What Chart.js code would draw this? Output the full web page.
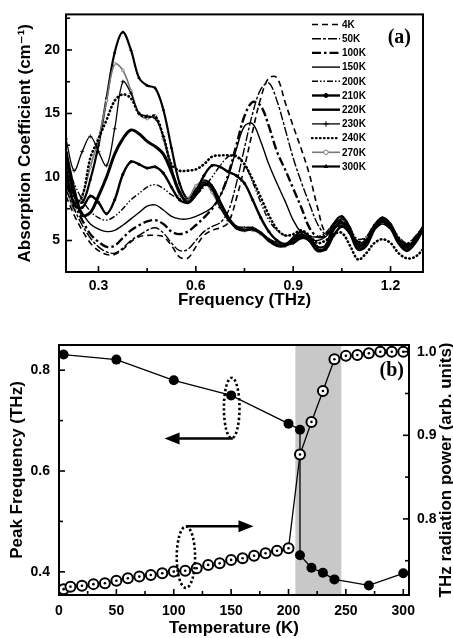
<!DOCTYPE html>
<html>
<head>
<meta charset="utf-8">
<script src="https://cdn.jsdelivr.net/npm/chart.js@4.4.1/dist/chart.umd.min.js"></script>
<style>
  html, body { margin: 0; padding: 0; background: #fff; }
  #wrap { position: relative; width: 453px; height: 638px; overflow: hidden; }
  #chart-a { position: absolute; left: 0; top: 0; }
  #chart-b { position: absolute; left: 0; top: 320px; }
</style>
</head>
<body>
<div id="wrap">
  <canvas id="chart-a" width="453" height="320"></canvas>
  <canvas id="chart-b" width="453" height="318"></canvas>
</div>
<script>
// (a) absorption spectra, one array per temperature
const freq = [0.2, 0.225, 0.25, 0.275, 0.3, 0.325, 0.35, 0.375, 0.4, 0.425, 0.45, 0.475, 0.5, 0.525, 0.55,
  0.575, 0.6, 0.625, 0.65, 0.675, 0.7, 0.725, 0.75, 0.775, 0.8, 0.825, 0.85, 0.875, 0.9, 0.925,
  0.95, 0.975, 1.0, 1.025, 1.05, 1.075, 1.1, 1.125, 1.15, 1.175, 1.2, 1.225, 1.25, 1.275, 1.3];
const abs4K = [8.5, 7.0, 5.8, 4.8, 4.2, 3.9, 3.9, 4.3, 4.9, 5.3, 5.4, 5.4, 5.3, 4.6, 3.7, 3.6, 4.5, 5.4, 5.8, 6.0, 6.4, 8.3, 10.8, 13.6, 16.2, 17.8, 17.8, 15.9, 14.0, 12.2, 10.2, 7.6, 5.6, 6.0, 6.1, 5.6, 4.6, 4.8, 5.8, 6.3, 5.9, 5.0, 4.6, 5.2, 6.0];
const abs50K = [9.0, 7.5, 6.2, 5.2, 4.5, 4.1, 4.0, 4.4, 5.0, 5.4, 5.8, 6.0, 5.6, 4.8, 4.2, 4.3, 5.0, 5.7, 6.1, 6.4, 7.3, 9.5, 12.3, 15.0, 16.9, 17.4, 16.0, 13.8, 11.5, 9.6, 7.9, 6.3, 5.5, 5.9, 6.4, 5.7, 4.8, 5.1, 6.1, 6.5, 6.0, 5.1, 4.6, 5.1, 5.9];
const abs100K = [9.5, 8.0, 6.6, 5.5, 4.9, 4.5, 4.6, 5.2, 5.8, 6.2, 6.5, 6.6, 6.3, 5.7, 5.5, 5.7, 6.2, 6.8, 7.5, 8.5, 10.2, 12.5, 14.8, 15.9, 15.6, 14.0, 12.0, 10.6, 9.1, 7.6, 6.0, 5.3, 5.4, 6.3, 6.5, 5.7, 4.9, 5.2, 6.2, 6.6, 6.1, 5.2, 4.7, 5.2, 6.0];
const abs150K = [10.0, 8.5, 7.2, 6.3, 5.9, 5.7, 5.8, 6.2, 6.7, 7.2, 7.7, 7.8, 7.4, 6.9, 6.7, 6.7, 6.9, 7.2, 7.6, 8.5, 10.0, 12.2, 14.0, 14.2, 12.8, 11.0, 9.5, 8.1, 6.6, 5.6, 5.1, 5.0, 5.3, 6.0, 6.2, 5.5, 4.7, 5.0, 5.9, 6.3, 5.9, 5.0, 4.5, 5.0, 5.8];
const abs200K = [11.0, 9.5, 8.2, 7.3, 6.8, 6.6, 6.9, 7.5, 8.2, 8.7, 9.2, 9.4, 9.1, 8.6, 8.3, 8.3, 8.6, 9.2, 10.0, 10.9, 11.6, 11.7, 11.0, 9.6, 8.0, 6.6, 5.8, 5.4, 5.4, 5.4, 5.3, 5.3, 5.6, 6.3, 6.5, 5.9, 5.1, 5.3, 6.2, 6.6, 6.2, 5.3, 4.8, 5.3, 6.1];
const abs210K = [10.5, 7.8, 7.6, 8.5, 8.0, 7.1, 8.2, 10.2, 11.2, 11.0, 10.7, 10.8, 10.3, 9.2, 8.2, 8.0, 8.8, 10.1, 10.9, 10.8, 10.4, 10.1, 9.5, 8.2, 6.8, 5.7, 5.0, 4.7, 4.8, 5.2, 5.0, 4.3, 4.3, 5.4, 6.1, 5.6, 4.6, 4.9, 6.0, 6.5, 6.0, 5.0, 4.5, 5.0, 5.9];
const abs220K = [12.0, 9.0, 7.0, 7.2, 8.5, 10.0, 11.8, 13.0, 13.7, 13.4, 12.8, 12.4, 11.8, 10.4, 8.8, 8.0, 8.6, 9.4, 9.2, 8.0, 6.8, 6.0, 5.8, 5.9, 5.6, 5.0, 4.6, 4.6, 5.0, 5.4, 5.0, 4.2, 4.4, 5.9, 6.4, 5.6, 4.3, 4.6, 5.9, 6.5, 6.0, 4.8, 4.2, 4.8, 5.9];
const abs230K = [13.0, 10.5, 12.0, 13.2, 12.0, 10.9, 13.8, 17.5, 16.6, 15.0, 14.8, 14.6, 13.2, 10.8, 8.8, 8.0, 8.8, 9.6, 9.0, 7.6, 6.6, 6.0, 5.8, 5.9, 5.6, 5.0, 4.7, 4.6, 5.1, 5.5, 5.2, 4.5, 4.6, 6.2, 6.7, 5.9, 4.5, 4.8, 6.1, 6.7, 6.2, 5.0, 4.4, 5.0, 6.0];
const abs240K = [11.0, 8.0, 8.5, 11.5, 13.0, 14.5, 16.0, 16.5, 16.2, 15.0, 14.7, 14.8, 13.2, 11.0, 10.5, 10.5, 10.6, 11.0, 11.6, 11.7, 11.7, 11.6, 11.0, 9.8, 8.4, 7.0, 5.9, 5.4, 5.5, 5.8, 5.4, 4.8, 5.0, 5.5, 5.6, 4.6, 3.5, 4.0, 4.8, 5.1, 4.8, 4.0, 3.6, 3.7, 4.3];
const abs270K = [9.5, 7.4, 8.5, 10.8, 13.0, 16.0, 18.9, 18.4, 16.8, 15.0, 14.6, 14.8, 13.0, 10.5, 8.6, 8.3, 9.3, 9.6, 8.8, 7.6, 6.6, 6.0, 5.9, 5.8, 5.5, 5.0, 4.7, 4.6, 5.0, 5.5, 5.1, 4.3, 4.5, 6.0, 6.6, 5.8, 4.4, 4.7, 6.0, 6.6, 6.1, 4.9, 4.3, 4.9, 6.0];
const abs300K = [12.0, 8.5, 8.0, 9.8, 12.5, 16.2, 19.8, 21.4, 20.0, 17.8, 17.2, 17.0, 15.3, 12.3, 9.5, 8.3, 9.0, 9.7, 9.3, 8.0, 6.8, 6.1, 6.0, 6.0, 5.6, 5.1, 4.8, 4.7, 5.2, 5.7, 5.3, 4.5, 4.6, 6.3, 6.9, 6.0, 4.6, 4.9, 6.2, 6.8, 6.3, 5.1, 4.5, 5.1, 6.1];

// (b) peak frequency and THz power vs temperature
const tempPeak = [4, 50, 100, 150, 200, 210, 210, 220, 230, 240, 270, 300];
const peakFreq = [0.831, 0.821, 0.780, 0.750, 0.694, 0.682, 0.433, 0.408, 0.398, 0.385, 0.373, 0.397];
const tempPower = [4, 10, 20, 30, 40, 50, 60, 70, 80, 90, 100, 110, 120, 130, 140, 150, 160, 170, 180, 190,
  200, 210, 220, 230, 240, 250, 260, 270, 280, 290, 300];
const thzPower = [0.716, 0.719, 0.720, 0.722, 0.723, 0.726, 0.729, 0.731, 0.733, 0.735, 0.737, 0.738, 0.741,
  0.745, 0.747, 0.751, 0.753, 0.756, 0.759, 0.762, 0.765, 0.877, 0.916, 0.953, 0.991, 0.995, 0.996, 0.998,
  1.000, 1.000, 1.000];
const transition = [206, 246]; // shaded temperature band

const FONT = '"Liberation Sans", "DejaVu Sans", Arial, sans-serif';
const SERIF = '"Liberation Serif", "DejaVu Serif", serif';

// line style for each temperature curve
const spectra = [
  { label: '4K', data: abs4K, dash: [6, 4], width: 1.6 },
  { label: '50K', data: abs50K, dash: [9, 2, 3, 2], width: 1.4 },
  { label: '100K', data: abs100K, dash: [9, 3, 2.5, 3], width: 2.4 },
  { label: '150K', data: abs150K, dash: [], width: 1.4 },
  { label: '200K', data: abs200K, dash: [6, 2, 1.5, 2, 1.5, 2], width: 1.4 },
  { label: '210K', data: abs210K, dash: [], width: 2.4, point: 'circle', r: 1.2 },
  { label: '220K', data: abs220K, dash: [], width: 3.0 },
  { label: '230K', data: abs230K, dash: [], width: 1.3, point: 'cross', r: 2 },
  { label: '240K', data: abs240K, dash: [0.5, 3.5], width: 2.6, cap: 'round' },
  { label: '270K', data: abs270K, dash: [], width: 1.6, point: 'circle', r: 1.4, color: '#777', fill: '#ddd' },
  { label: '300K', data: abs300K, dash: [], width: 2.2, point: 'triangle', r: 1.4 }
];

function drawMarker(ctx, style, x, y, r, fill, stroke) {
  ctx.save();
  ctx.setLineDash([]);
  ctx.lineWidth = 1;
  ctx.strokeStyle = stroke;
  ctx.fillStyle = fill;
  ctx.beginPath();
  if (style === 'circle') {
    ctx.arc(x, y, r, 0, Math.PI * 2);
    ctx.fill();
    ctx.stroke();
  } else if (style === 'cross') {
    ctx.moveTo(x - r, y); ctx.lineTo(x + r, y);
    ctx.moveTo(x, y - r); ctx.lineTo(x, y + r);
    ctx.stroke();
  } else if (style === 'triangle') {
    ctx.moveTo(x, y - r * 1.2);
    ctx.lineTo(x + r * 1.1, y + r * 0.7);
    ctx.lineTo(x - r * 1.1, y + r * 0.7);
    ctx.closePath();
    ctx.fill();
  }
  ctx.restore();
}

// inward tick marks + box frame
const frameTicks = {
  id: 'frameTicks',
  afterDraw(chart) {
    const { ctx, chartArea: a } = chart;
    ctx.save();
    ctx.strokeStyle = '#000';
    ctx.lineWidth = 1.6;
    Object.values(chart.scales).forEach(scale => {
      scale.ticks.forEach(t => {
        const p = scale.getPixelForValue(t.value);
        const len = t.label ? 6 : 4;
        ctx.beginPath();
        if (scale.axis === 'x') {
          ctx.moveTo(p, a.bottom); ctx.lineTo(p, a.bottom - len);
        } else if (scale.position === 'left') {
          ctx.moveTo(a.left, p); ctx.lineTo(a.left + len, p);
        } else {
          ctx.moveTo(a.right, p); ctx.lineTo(a.right - len, p);
        }
        ctx.stroke();
      });
    });
    ctx.lineWidth = 2;
    ctx.strokeRect(a.left, a.top, a.right - a.left, a.bottom - a.top);
    const lab = chart.options.plugins.frameTicks;
    if (lab && lab.text) {
      ctx.fillStyle = '#000';
      ctx.font = 'bold 20px ' + SERIF;
      ctx.textAlign = 'right';
      ctx.textBaseline = 'alphabetic';
      ctx.fillText(lab.text, a.right - lab.dx, a.top + lab.dy);
    }
    ctx.restore();
  }
};

// legend inside panel (a)
const specLegend = {
  id: 'specLegend',
  afterDraw(chart) {
    const ctx = chart.ctx;
    const x0 = 312, x1 = 340, y0 = 24.5, dy = 14.2;
    chart.data.datasets.forEach((ds, i) => {
      const y = y0 + i * dy;
      ctx.save();
      ctx.strokeStyle = ds.borderColor;
      ctx.lineWidth = Math.min(ds.borderWidth, 2.4);
      ctx.lineCap = ds.borderCapStyle || 'butt';
      ctx.setLineDash(ds.borderDash || []);
      ctx.beginPath();
      ctx.moveTo(x0, y);
      ctx.lineTo(x1, y);
      ctx.stroke();
      if (ds.pointRadius > 0) {
        drawMarker(ctx, ds.pointStyle, (x0 + x1) / 2, y, ds.pointRadius + 0.8, ds.pointStyle === 'circle' && ds.label === '270K' ? '#fff' : ds.pointBackgroundColor, ds.pointBorderColor);
      }
      ctx.fillStyle = '#000';
      ctx.font = 'bold 10px ' + FONT;
      ctx.textBaseline = 'middle';
      ctx.textAlign = 'left';
      ctx.fillText(ds.label, 342, y + 0.5);
      ctx.restore();
    });
  }
};

new Chart(document.getElementById('chart-a'), {
  type: 'line',
  data: {
    datasets: spectra.map(s => ({
      label: s.label,
      data: freq.map((f, i) => ({ x: f, y: s.data[i] })),
      borderColor: s.color || '#000',
      borderWidth: s.width,
      borderDash: s.dash,
      borderCapStyle: s.cap || 'butt',
      pointStyle: s.point || 'circle',
      pointRadius: s.point ? s.r : 0,
      pointBorderColor: s.color || '#000',
      pointBackgroundColor: s.fill || (s.color || '#000'),
      pointBorderWidth: 0.8,
      tension: 0.35,
      fill: false
    }))
  },
  options: {
    responsive: false,
    animation: false,
    events: [],
    devicePixelRatio: 1,
    layout: { padding: { top: 11, right: 30, left: 0, bottom: 0 } },
    plugins: {
      legend: { display: false },
      tooltip: { enabled: false },
      frameTicks: { text: '(a)', dx: 12, dy: 29 }
    },
    scales: {
      x: {
        type: 'linear', min: 0.2, max: 1.3,
        afterFit: s => { s.height = 48; },
        border: { display: false },
        grid: { drawOnChartArea: false, drawTicks: false },
        ticks: {
          stepSize: 0.15, includeBounds: false, autoSkip: false, maxRotation: 0, padding: 6,
          color: '#000', font: { family: FONT, size: 14, weight: 'bold' },
          callback: v => Math.abs(v / 0.3 - Math.round(v / 0.3)) < 1e-6 ? v.toFixed(1) : ''
        },
        title: {
          display: true, text: 'Frequency (THz)', color: '#000',
          font: { family: FONT, size: 17, weight: 'bold' }, padding: { top: 0, bottom: 9 }
        }
      },
      y: {
        type: 'linear', min: 2.52, max: 22.8,
        afterFit: s => { s.width = 66; },
        border: { display: false },
        grid: { drawOnChartArea: false, drawTicks: false },
        ticks: {
          stepSize: 2.5, includeBounds: false, autoSkip: false, padding: 6,
          color: '#000', font: { family: FONT, size: 14, weight: 'bold' },
          callback: v => Math.round(v * 2) % 10 === 0 ? String(Math.round(v)) : ''
        },
        title: {
          display: true, text: 'Absorption Coefficient (cm\u207B\u00B9)', color: '#000',
          font: { family: FONT, size: 17, weight: 'bold' }, padding: { top: 15, bottom: 0 }
        }
      }
    }
  },
  plugins: [frameTicks, specLegend]
});

// (b) shaded transition band, drawn under the data
const band = {
  id: 'band',
  beforeDatasetsDraw(chart) {
    const { ctx, chartArea: a, scales: { x } } = chart;
    const x0 = x.getPixelForValue(transition[0]);
    const x1 = x.getPixelForValue(transition[1]);
    ctx.save();
    ctx.fillStyle = '#c8c8c8';
    ctx.fillRect(x0, a.top, x1 - x0, a.bottom - a.top);
    ctx.restore();
  }
};

// dotted ovals and arrows that tie each curve to its axis
const ovals = [{ t: 150.5, f: 0.725, dt: 6.8, df: 0.06 }, { t: 110.6, f: 0.429, dt: 8, df: 0.061 }];
const arrows = [{ t0: 151.5, t1: 92, f: 0.6645 }, { t0: 110.6, t1: 169.5, f: 0.4905 }];
const marks = {
  id: 'marks',
  afterDatasetsDraw(chart) {
    const { ctx, scales: { x, yL } } = chart;
    ctx.save();
    ctx.strokeStyle = '#000';
    ctx.fillStyle = '#000';
    ovals.forEach(o => {
      const cx = x.getPixelForValue(o.t), cy = yL.getPixelForValue(o.f);
      const rx = x.getPixelForValue(o.t + o.dt) - cx;
      const ry = cy - yL.getPixelForValue(o.f + o.df);
      ctx.lineWidth = 2.6;
      ctx.setLineDash([2.4, 2.4]);
      ctx.beginPath();
      ctx.ellipse(cx, cy, rx, ry, 0, 0, Math.PI * 2);
      ctx.stroke();
    });
    ctx.setLineDash([]);
    arrows.forEach(ar => {
      const xa = x.getPixelForValue(ar.t0), xb = x.getPixelForValue(ar.t1);
      const y = yL.getPixelForValue(ar.f);
      const dir = xb > xa ? 1 : -1;
      ctx.lineWidth = 2.6;
      ctx.beginPath();
      ctx.moveTo(xa, y);
      ctx.lineTo(xb - dir * 10, y);
      ctx.stroke();
      ctx.beginPath();
      ctx.moveTo(xb, y);
      ctx.lineTo(xb - dir * 15, y - 6);
      ctx.lineTo(xb - dir * 15, y + 6);
      ctx.closePath();
      ctx.fill();
    });
    // right axis title reads bottom to top
    const a = chart.chartArea;
    ctx.translate(446, (a.top + a.bottom) / 2);
    ctx.rotate(-Math.PI / 2);
    ctx.font = 'bold 17px ' + FONT;
    ctx.textAlign = 'center';
    ctx.textBaseline = 'middle';
    ctx.fillText('THz radiation power (arb. units)', 0, 0);
    ctx.restore();
  }
};

new Chart(document.getElementById('chart-b'), {
  type: 'line',
  data: {
    datasets: [
      {
        label: 'power centre',
        data: tempPower.map((t, i) => ({ x: t, y: thzPower[i] })),
        yAxisID: 'yR', showLine: false,
        pointRadius: 1.3, pointBackgroundColor: '#000', pointBorderWidth: 0
      },
      {
        label: 'THz power',
        data: tempPower.map((t, i) => ({ x: t, y: thzPower[i] })),
        yAxisID: 'yR', borderColor: '#000', borderWidth: 1.3, tension: 0,
        pointRadius: 5, pointBorderWidth: 2, pointBorderColor: '#000', pointBackgroundColor: '#fff'
      },
      {
        label: 'Peak frequency',
        data: tempPeak.map((t, i) => ({ x: t, y: peakFreq[i] })),
        yAxisID: 'yL', borderColor: '#000', borderWidth: 1.3, tension: 0,
        pointRadius: 5, pointBorderWidth: 0, pointBackgroundColor: '#000'
      }
    ]
  },
  options: {
    responsive: false,
    animation: false,
    events: [],
    devicePixelRatio: 1,
    layout: { padding: { top: 25, right: 0, left: 0, bottom: 0 } },
    plugins: {
      legend: { display: false },
      tooltip: { enabled: false },
      frameTicks: { text: '(b)', dx: 5, dy: 31 }
    },
    scales: {
      x: {
        type: 'linear', min: 0, max: 305,
        afterFit: s => { s.height = 43; },
        border: { display: false },
        grid: { drawOnChartArea: false, drawTicks: false },
        ticks: {
          stepSize: 25, includeBounds: false, autoSkip: false, maxRotation: 0, padding: 8,
          color: '#000', font: { family: FONT, size: 14, weight: 'bold' },
          callback: v => v % 50 === 0 ? String(v) : ''
        },
        title: {
          display: true, text: 'Temperature (K)', color: '#000',
          font: { family: FONT, size: 17, weight: 'bold' }, padding: { top: 0, bottom: -1 }
        }
      },
      yL: {
        type: 'linear', position: 'left', min: 0.354, max: 0.85,
        afterFit: s => { s.width = 59; },
        border: { display: false },
        grid: { drawOnChartArea: false, drawTicks: false },
        ticks: {
          stepSize: 0.1, includeBounds: false, autoSkip: false, padding: 9,
          color: '#000', font: { family: FONT, size: 14, weight: 'bold' },
          callback: v => Math.round(v * 10) % 2 === 0 ? v.toFixed(1) : ''
        },
        title: {
          display: true, text: 'Peak Frequency (THz)', color: '#000',
          font: { family: FONT, size: 17, weight: 'bold' }, padding: { top: 7, bottom: 0 }
        }
      },
      yR: {
        type: 'linear', position: 'right', min: 0.709, max: 1.008,
        afterFit: s => { s.width = 44; },
        border: { display: false },
        grid: { drawOnChartArea: false, drawTicks: false },
        ticks: {
          stepSize: 0.05, includeBounds: false, autoSkip: false, padding: 8,
          color: '#000', font: { family: FONT, size: 14, weight: 'bold' },
          callback: v => Math.round(v * 100) % 10 === 0 ? v.toFixed(1) : ''
        }
      }
    }
  },
  plugins: [band, frameTicks, marks]
});
</script>
</body>
</html>
